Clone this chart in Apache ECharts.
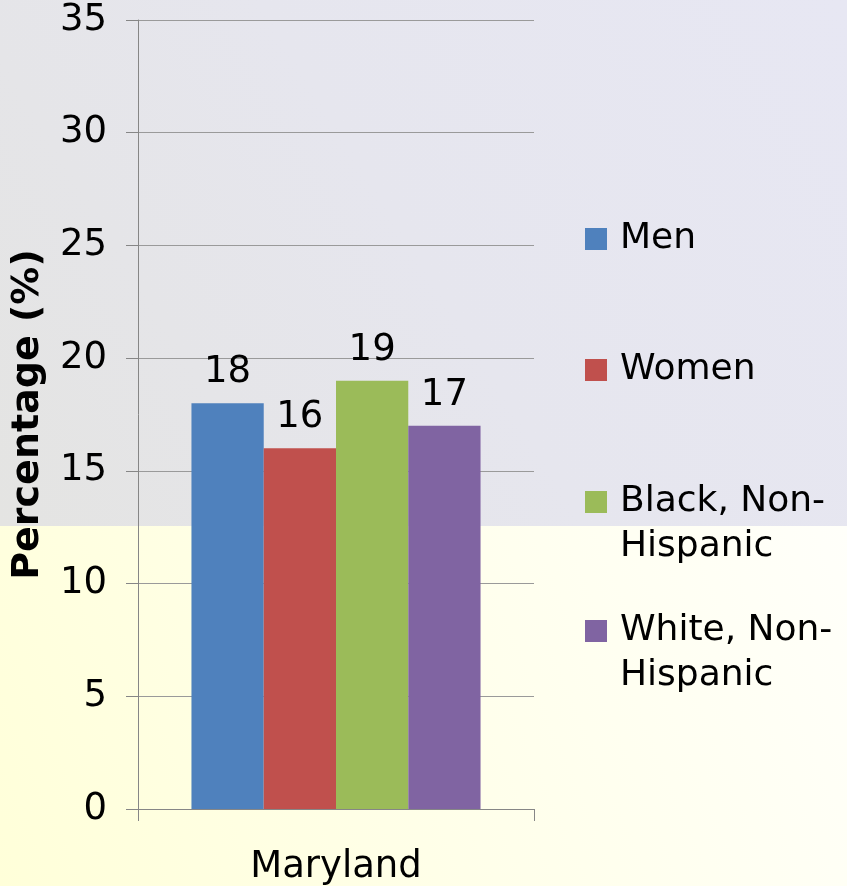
<!DOCTYPE html>
<html>
<head>
<meta charset="utf-8">
<style>
  html, body { margin: 0; padding: 0; }
  #chart { width: 847px; height: 886px; }
</style>
<script src="https://cdn.jsdelivr.net/npm/echarts@6/dist/echarts.min.js"></script>
</head>
<body>
<div id="chart"></div>
<script>
// data
var categories = ['Maryland'];
var groups = ['Men', 'Women', 'Black, Non-Hispanic', 'White, Non-Hispanic'];
var groupLabels = ['Men', 'Women', 'Black, Non-\nHispanic', 'White, Non-\nHispanic'];
var values = [18, 16, 19, 17];
var colors = ['#4f81bd', '#c0504d', '#9bbb59', '#8064a2'];
var yTicks = { min: 0, max: 35, interval: 5 };

var font = 'DejaVu Sans, Verdana, sans-serif';
var chart = echarts.init(document.getElementById('chart'));

var series = groups.map(function (g, i) {
  return {
    name: g,
    type: 'bar',
    barGap: 0,
    barCategoryGap: '27%',
    data: [values[i]],
    itemStyle: { color: colors[i] },
    label: {
      show: true,
      position: 'top',
      distance: 12,
      color: '#000',
      fontFamily: font,
      fontSize: 37
    }
  };
});

// one legend block per entry; a blank first line keeps the marker
// level with the first line of the two-line entries
var legendTops = [216, 347, 434, 563];
var legends = groups.map(function (g, i) {
  var lines = groupLabels[i].split('\n');
  if (lines.length > 1) lines.unshift(' ');
  return {
    data: [g],
    left: 580,
    top: legendTops[i],
    orient: 'vertical',
    itemWidth: 22,
    itemHeight: 22,
    icon: 'rect',
    formatter: function () {
      return lines.map(function (l) { return '{t|' + l + '}'; }).join('\n');
    },
    textStyle: {
      rich: {
        t: {
          fontFamily: font,
          fontSize: 36,
          color: '#000',
          lineHeight: 45,
          padding: [0, 0, 0, 8]
        }
      }
    }
  };
});

var option = {
  animation: false,
  graphic: [
    {
      type: 'rect', z: -10, silent: true,
      shape: { x: 0, y: 0, width: 847, height: 526 },
      style: {
        fill: new echarts.graphic.LinearGradient(0, 1, 1, 0, [
          { offset: 0, color: '#e4e4e2' },
          { offset: 0.5, color: '#e6e6ee' },
          { offset: 1, color: '#e7e7f3' }
        ])
      }
    },
    {
      type: 'rect', z: -10, silent: true,
      shape: { x: 0, y: 526, width: 847, height: 360 },
      style: {
        fill: new echarts.graphic.LinearGradient(0, 1, 1, 0, [
          { offset: 0, color: '#ffffd9' },
          { offset: 0.5, color: '#ffffea' },
          { offset: 1, color: '#fffffa' }
        ])
      }
    }
  ],
  legend: legends,
  grid: { left: 138, right: 313, top: 20, bottom: 75, containLabel: false },
  xAxis: {
    type: 'category',
    data: categories,
    axisLine: { show: true, lineStyle: { color: '#868686', width: 1 } },
    axisTick: { show: true, length: 12, lineStyle: { color: '#868686' } },
    axisLabel: { color: '#000', fontFamily: font, fontSize: 37, margin: 40 }
  },
  yAxis: {
    type: 'value',
    min: yTicks.min,
    max: yTicks.max,
    interval: yTicks.interval,
    name: 'Percentage (%)',
    nameLocation: 'middle',
    nameGap: 91,
    nameTextStyle: { color: '#000', fontFamily: font, fontSize: 38, fontWeight: 'bold' },
    axisLine: { show: true, lineStyle: { color: '#868686', width: 1 } },
    axisTick: { show: true, length: 12, lineStyle: { color: '#868686' } },
    axisLabel: { color: '#000', fontFamily: font, fontSize: 37, margin: 31 },
    splitLine: { show: true, lineStyle: { color: '#9a9a9a', width: 1 } }
  },
  series: series
};

chart.setOption(option);
</script>
</body>
</html>
